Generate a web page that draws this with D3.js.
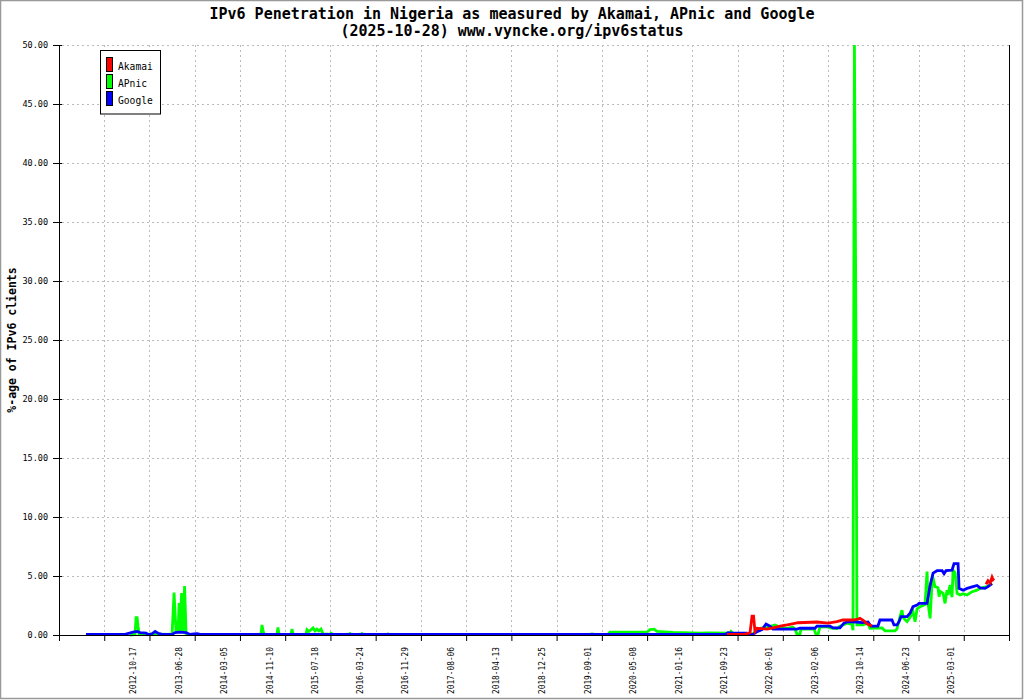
<!DOCTYPE html>
<html><head><meta charset="utf-8">
<script src="https://cdn.jsdelivr.net/npm/d3@7"></script>
<style>body{margin:0;background:#fff;} svg{display:block;}</style>
</head><body><svg id="chart" width="1024" height="700"></svg>
<script>
// ---------- data ----------
const titleLines = ["IPv6 Penetration in Nigeria as measured by Akamai, APnic and Google",
                    "(2025-10-28) www.vyncke.org/ipv6status"];
const yAxisTitle = "%-age of IPv6 clients";
const legendNames = ["Akamai", "APnic", "Google"];
const xTickLabels = ["2012-10-17","2013-06-28","2014-03-05","2014-11-10","2015-07-18","2016-03-24",
  "2016-11-29","2017-08-06","2018-04-13","2018-12-25","2019-09-01","2020-05-08","2021-01-16",
  "2021-09-23","2022-06-01","2023-02-06","2023-10-14","2024-06-23","2025-03-01"];
const yTickValues = [0,5,10,15,20,25,30,35,40,45,50];
const xRangeYears = [2011.673, 2026.042];   // axis span, decimal years
const xTickCount = 22;

// dates as decimal years
const googleDates = [2012.081,2012.671,2012.792,2012.853,2012.898,2012.989,2013.019,2013.079,2013.125,2013.170,
  2013.231,2013.382,2013.427,2013.503,2013.594,2013.654,2013.715,2013.760,2013.805,2021.747,2021.792,2021.852,
  2022.079,2022.125,2022.170,2022.231,2022.306,2022.367,2022.427,2022.473,2022.836,2022.881,2023.108,2023.139,
  2023.335,2023.380,2023.486,2023.546,2023.607,2023.728,2023.819,2023.910,2023.955,2024.061,2024.091,2024.273,
  2024.303,2024.348,2024.379,2024.409,2024.500,2024.545,2024.590,2024.651,2024.681,2024.802,2024.848,2024.893,
  2024.953,2025.029,2025.059,2025.089,2025.180,2025.210,2025.271,2025.286,2025.347,2025.407,2025.498,2025.558,
  2025.604,2025.679,2025.724,2025.785];
const googleValues = [0.05,0.05,0.25,0.3,0.2,0.15,0.03,0.1,0.3,0.15,
  0.05,0.05,0.2,0.25,0.2,0.05,0.1,0.12,0.05,0.05,0.2,0.15,
  0.15,0.05,0.05,0.28,0.45,0.93,0.75,0.5,0.5,0.57,0.57,0.76,
  0.76,0.6,0.6,1.0,1.13,1.1,1.05,1.1,0.76,0.76,1.27,1.27,
  0.85,0.85,1.13,1.55,1.55,1.84,2.4,2.54,2.68,2.68,4.2,5.25,
  5.45,5.45,5.2,5.45,5.5,6.05,6.05,3.95,3.8,3.95,4.1,4.2,
  4.0,3.95,4.1,4.35];

const apnicDates = [2012.747,2012.822,2012.837,2012.853,2012.868,2012.883,2013.382,2013.412,2013.427,2013.442,
  2013.458,2013.473,2013.488,2013.503,2013.526,2013.548,2013.571,2013.594,2013.624,2014.728,2014.743,2014.758,
  2014.774,2014.970,2014.985,2015.000,2015.182,2015.197,2015.212,2015.409,2015.424,2015.454,2015.484,2015.515,
  2015.545,2015.575,2015.605,2015.636,2015.666,2015.772,2015.787,2015.817,2016.059,2016.074,2016.089,2016.241,
  2016.256,2016.271,2016.634,2016.649,2016.664,2019.705,2019.735,2019.795,2019.977,2020.007,2020.567,2020.612,
  2020.673,2020.718,2020.960,2021.368,2021.489,2021.822,2021.837,2021.868,2022.079,2022.170,2022.231,2022.276,
  2022.382,2022.503,2022.579,2022.685,2022.775,2022.806,2022.836,2022.881,2022.896,2023.093,2023.123,2023.154,
  2023.184,2023.290,2023.335,2023.441,2023.486,2023.592,2023.668,2023.683,2023.705,2023.728,2023.743,2023.834,
  2023.910,2023.940,2024.122,2024.167,2024.318,2024.348,2024.394,2024.424,2024.439,2024.469,2024.500,2024.545,
  2024.590,2024.621,2024.651,2024.696,2024.742,2024.772,2024.802,2024.817,2024.848,2024.878,2024.893,2024.923,
  2024.968,2024.984,2024.999,2025.044,2025.074,2025.104,2025.120,2025.150,2025.180,2025.195,2025.226,2025.256,
  2025.301,2025.347,2025.407,2025.483,2025.558,2025.604,2025.709,2025.785];
const apnicValues = [0,0.05,1.47,1.47,0.7,0.1,0.05,3.6,1.8,0.3,
  1.2,0.2,2.7,0.3,3.55,0.3,4.15,0.1,0.05,0.05,0.85,0.4,
  0.05,0.05,0.65,0.05,0.05,0.5,0.05,0.05,0.45,0.3,0.45,0.6,
  0.35,0.5,0.35,0.5,0.1,0.05,0.15,0.05,0.05,0.12,0.05,0.05,
  0.12,0.05,0.05,0.1,0.05,0.05,0.1,0.03,0.05,0.25,0.25,0.45,
  0.5,0.3,0.22,0.15,0.18,0.15,0.3,0.15,0.12,0.1,0.42,0.56,
  0.65,0.85,0.65,0.56,0.65,0.5,0.05,0.1,0.5,0.5,0.05,0.05,
  0.7,0.7,0.6,0.55,0.75,1.0,0.9,0.4,50,25.5,0.85,0.85,
  1.0,0.56,0.6,0.35,0.35,0.5,1.55,2.1,1.5,1.3,1.13,1.5,
  1.97,1.13,2.2,2.4,2.5,2.6,5.37,2.7,1.41,4.5,4.8,4.1,
  4.0,3.25,3.7,3.53,2.68,3.8,3.4,4.24,3.2,5.5,5.3,3.53,
  3.39,3.5,3.39,3.67,3.8,3.95,4.1,4.38];

const akamaiDates = [2021.777,2022.049,2022.125,2022.155,2022.178,2022.200,2022.231,2022.382,2022.473,2022.579,
  2022.685,2022.730,2022.851,2023.139,2023.305,2023.441,2023.531,2023.683,2023.758,2023.788,2023.849,2023.894,
  2023.970,2024.500,2025.694,2025.724,2025.755,2025.785,2025.800,2025.815];
const akamaiValues = [0.05,0.05,0.2,1.6,1.6,0.3,0.57,0.5,0.6,0.75,
  0.85,0.9,1.04,1.1,1.0,1.13,1.27,1.27,1.35,1.41,1.2,0.95,
  0.76,null,4.3,4.6,4.4,4.9,4.7,4.8];

// ---------- styles ----------
const COLORS = {Akamai:"#ff0000", APnic:"#00ff00", Google:"#0000ff"};
const MONO = "'DejaVu Sans Mono', monospace";

function yearToDate(yv){
  const yi = Math.floor(yv);
  const s = Date.UTC(yi,0,1), e = Date.UTC(yi+1,0,1);
  return new Date(s + (yv-yi)*(e-s));
}

const svg = d3.select("#chart");
const W = 1024, H = 700;
const plot = {left:59, right:1009, top:45, bottom:635};

svg.append("rect").attr("x",0.5).attr("y",0.5).attr("width",W-2).attr("height",H-2)
  .attr("fill","#fff").attr("stroke","#999").attr("stroke-width",1.5);

const x = d3.scaleUtc().domain(xRangeYears.map(yearToDate)).range([plot.left, plot.right]);
const y = d3.scaleLinear().domain([0,50]).range([plot.bottom, plot.top]);

// grid
const d0 = +x.domain()[0], d1 = +x.domain()[1];
const xTickDates = d3.range(xTickCount).map(i => new Date(d0 + i*(d1-d0)/(xTickCount-1)));
const grid = svg.append("g").attr("stroke","#bbb").attr("stroke-dasharray","2,3").attr("stroke-width",1);
grid.selectAll("line.h").data(yTickValues.filter(v => v > 0)).join("line")
  .attr("x1", plot.left+3).attr("x2", plot.right)
  .attr("y1", d => Math.round(y(d))+0.5).attr("y2", d => Math.round(y(d))+0.5);
grid.selectAll("line.v").data(xTickDates.slice(1, -1)).join("line")
  .attr("x1", d => Math.round(x(d))+0.5).attr("x2", d => Math.round(x(d))+0.5)
  .attr("y1", plot.top).attr("y2", plot.bottom);

// series
function series(dates, values){
  return dates.map((d,i) => ({date: yearToDate(d), value: values[i]}));
}
const line = d3.line().defined(d => d.value !== null)
  .x(d => x(d.date)).y(d => y(d.value));
const drawOrder = [["APnic", series(apnicDates, apnicValues)],
                   ["Google", series(googleDates, googleValues)],
                   ["Akamai", series(akamaiDates, akamaiValues)]];
svg.append("g").selectAll("path").data(drawOrder).join("path")
  .attr("d", d => line(d[1]))
  .attr("fill","none").attr("stroke", d => COLORS[d[0]])
  .attr("stroke-width",2.8).attr("stroke-linejoin","miter").attr("stroke-linecap","butt");

// axes
const xAxis = svg.append("g").attr("transform",`translate(0,${plot.bottom})`)
  .call(d3.axisBottom(x).tickValues(xTickDates).tickFormat("").tickSize(6).tickSizeOuter(0));
xAxis.select(".domain").attr("stroke","#000");
xAxis.selectAll(".tick line").attr("stroke","#000");

const yAxis = svg.append("g").attr("transform",`translate(${plot.left},0)`)
  .call(d3.axisLeft(y).tickValues(yTickValues).tickFormat(d3.format(".2f")).tickSize(6).tickPadding(5).tickSizeOuter(0));
yAxis.select(".domain").attr("stroke","#000");
yAxis.selectAll(".tick line").attr("stroke","#000").attr("x1",3);
yAxis.selectAll(".tick text").attr("font-family",MONO).attr("font-size","8.5px").attr("fill","#000");

svg.append("line").attr("x1",plot.right+0.5).attr("x2",plot.right+0.5)
  .attr("y1",plot.top).attr("y2",plot.bottom).attr("stroke","#000");

// x labels
svg.append("g").selectAll("text").data(xTickLabels).join("text")
  .attr("transform", d => `translate(${x(new Date(d+"T00:00:00Z"))},647) rotate(-90)`)
  .attr("text-anchor","end").attr("dy","0.35em")
  .attr("font-family",MONO).attr("font-size","9px").attr("fill","#000")
  .attr("textLength",47).attr("lengthAdjust","spacingAndGlyphs")
  .text(d => d);

// titles
svg.append("g").selectAll("text").data(titleLines).join("text")
  .attr("x", W/2).attr("y", (d,i) => 18.5 + i*17.5)
  .attr("text-anchor","middle").attr("font-family",MONO).attr("font-weight","bold")
  .attr("font-size","15px").attr("fill","#000").text(d => d);

svg.append("text").attr("transform",`translate(15.5,${(plot.top+plot.bottom)/2}) rotate(-90)`)
  .attr("text-anchor","middle").attr("font-family",MONO).attr("font-weight","bold")
  .attr("font-size","11.5px").attr("fill","#000").text(yAxisTitle);

// legend
const lg = svg.append("g");
lg.append("rect").attr("x",100.5).attr("y",50.5).attr("width",60).attr("height",63.5)
  .attr("fill","#fff").attr("stroke","#000");
const items = lg.selectAll("g").data(legendNames).join("g")
  .attr("transform",(d,i) => `translate(0,${i*17})`);
items.append("rect").attr("x",106.5).attr("y",57.5).attr("width",6).attr("height",14)
  .attr("fill", d => COLORS[d]).attr("stroke","#000");
items.append("text").attr("x",118).attr("y",69.5)
  .attr("font-family",MONO).attr("font-size","11px").attr("fill","#000")
  .attr("textLength", d => d.length*5.8).attr("lengthAdjust","spacingAndGlyphs")
  .text(d => d);
</script>
</body></html>
